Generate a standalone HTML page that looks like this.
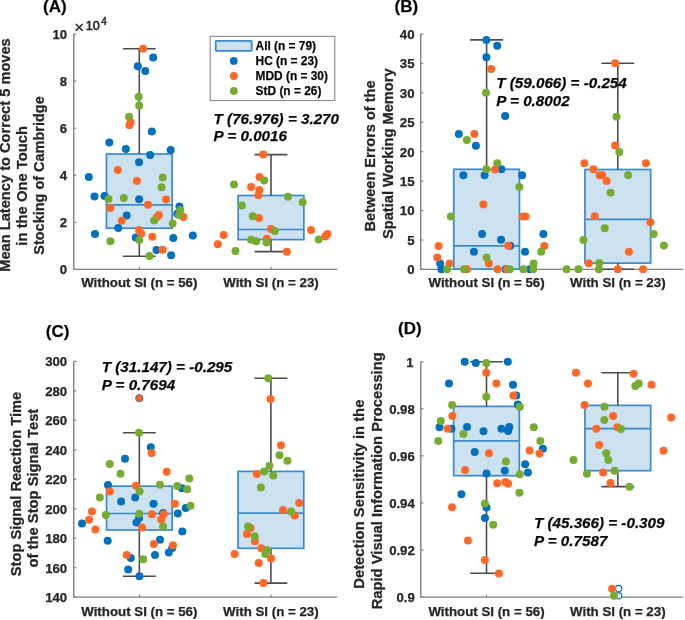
<!DOCTYPE html><html><head><meta charset="utf-8"><style>html,body{margin:0;padding:0;background:#fff}svg{display:block}text{font-family:"Liberation Sans",sans-serif;stroke:#222;stroke-width:0.25px}</style></head><body>
<svg width="685" height="620" viewBox="0 0 685 620">
<defs><filter id="bl" filterUnits="userSpaceOnUse" x="0" y="0" width="685" height="620"><feGaussianBlur stdDeviation="0.55"/></filter></defs>
<rect width="685" height="620" fill="#fff"/>
<g filter="url(#bl)">
<path d="M73.75,34.05 V269.4 H337.2" fill="none" stroke="#808080" stroke-width="1.4"/>
<line x1="73.75" y1="269.40" x2="76.35" y2="269.40" stroke="#808080" stroke-width="1.2"/>
<text x="67.2" y="274.30" font-size="13.2" font-weight="bold" fill="#262626" text-anchor="end">0</text>
<line x1="73.75" y1="222.33" x2="76.35" y2="222.33" stroke="#808080" stroke-width="1.2"/>
<text x="67.2" y="227.23" font-size="13.2" font-weight="bold" fill="#262626" text-anchor="end">2</text>
<line x1="73.75" y1="175.26" x2="76.35" y2="175.26" stroke="#808080" stroke-width="1.2"/>
<text x="67.2" y="180.16" font-size="13.2" font-weight="bold" fill="#262626" text-anchor="end">4</text>
<line x1="73.75" y1="128.19" x2="76.35" y2="128.19" stroke="#808080" stroke-width="1.2"/>
<text x="67.2" y="133.09" font-size="13.2" font-weight="bold" fill="#262626" text-anchor="end">6</text>
<line x1="73.75" y1="81.12" x2="76.35" y2="81.12" stroke="#808080" stroke-width="1.2"/>
<text x="67.2" y="86.02" font-size="13.2" font-weight="bold" fill="#262626" text-anchor="end">8</text>
<line x1="73.75" y1="34.05" x2="76.35" y2="34.05" stroke="#808080" stroke-width="1.2"/>
<text x="67.2" y="38.95" font-size="13.2" font-weight="bold" fill="#262626" text-anchor="end">10</text>
<line x1="139.30" y1="269.4" x2="139.30" y2="266.79999999999995" stroke="#808080" stroke-width="1.2"/>
<line x1="271.00" y1="269.4" x2="271.00" y2="266.79999999999995" stroke="#808080" stroke-width="1.2"/>
<rect x="106.45" y="154.00" width="65.70" height="74.20" fill="#CDE2F1" stroke="#3A8ACB" stroke-width="1.7"/>
<line x1="106.45" y1="204.90" x2="172.15" y2="204.90" stroke="#3A8ACB" stroke-width="1.7"/>
<line x1="139.30" y1="48.70" x2="139.30" y2="154.00" stroke="#4d4d4d" stroke-width="1.6"/>
<line x1="122.88" y1="48.70" x2="155.73" y2="48.70" stroke="#4d4d4d" stroke-width="1.6"/>
<line x1="139.30" y1="228.20" x2="139.30" y2="256.30" stroke="#4d4d4d" stroke-width="1.6"/>
<line x1="122.88" y1="256.30" x2="155.73" y2="256.30" stroke="#4d4d4d" stroke-width="1.6"/>
<rect x="238.15" y="195.50" width="65.70" height="44.10" fill="#CDE2F1" stroke="#3A8ACB" stroke-width="1.7"/>
<line x1="238.15" y1="229.50" x2="303.85" y2="229.50" stroke="#3A8ACB" stroke-width="1.7"/>
<line x1="271.00" y1="154.60" x2="271.00" y2="195.50" stroke="#4d4d4d" stroke-width="1.6"/>
<line x1="254.57" y1="154.60" x2="287.43" y2="154.60" stroke="#4d4d4d" stroke-width="1.6"/>
<line x1="271.00" y1="239.60" x2="271.00" y2="251.60" stroke="#4d4d4d" stroke-width="1.6"/>
<line x1="254.57" y1="251.60" x2="287.43" y2="251.60" stroke="#4d4d4d" stroke-width="1.6"/>
<circle cx="153.2" cy="57.4" r="4.0" fill="#0670BF"/>
<circle cx="137.8" cy="66.2" r="4.0" fill="#0670BF"/>
<circle cx="145.3" cy="70.9" r="4.0" fill="#0670BF"/>
<circle cx="151.8" cy="131.5" r="4.0" fill="#0670BF"/>
<circle cx="109.3" cy="142.5" r="4.0" fill="#0670BF"/>
<circle cx="125.9" cy="149" r="4.0" fill="#0670BF"/>
<circle cx="170.7" cy="150.1" r="4.0" fill="#0670BF"/>
<circle cx="150.1" cy="155.1" r="4.0" fill="#0670BF"/>
<circle cx="139" cy="162.3" r="4.0" fill="#0670BF"/>
<circle cx="88.8" cy="177" r="4.0" fill="#0670BF"/>
<circle cx="94.5" cy="196.5" r="4.0" fill="#0670BF"/>
<circle cx="104.5" cy="196.1" r="4.0" fill="#0670BF"/>
<circle cx="139.1" cy="199.3" r="4.0" fill="#0670BF"/>
<circle cx="179.4" cy="206.4" r="4.0" fill="#0670BF"/>
<circle cx="177.2" cy="213.8" r="4.0" fill="#0670BF"/>
<circle cx="126.7" cy="215.6" r="4.0" fill="#0670BF"/>
<circle cx="118.3" cy="227.9" r="4.0" fill="#0670BF"/>
<circle cx="95" cy="233.9" r="4.0" fill="#0670BF"/>
<circle cx="173.3" cy="237.9" r="4.0" fill="#0670BF"/>
<circle cx="192.8" cy="235.6" r="4.0" fill="#0670BF"/>
<circle cx="135.8" cy="237.5" r="4.0" fill="#0670BF"/>
<circle cx="156.5" cy="250" r="4.0" fill="#0670BF"/>
<circle cx="171.1" cy="255.2" r="4.0" fill="#0670BF"/>
<circle cx="143.1" cy="48.7" r="4.0" fill="#FF6828"/>
<circle cx="130.5" cy="122.2" r="4.0" fill="#FF6828"/>
<circle cx="129.4" cy="125.2" r="4.0" fill="#FF6828"/>
<circle cx="117.8" cy="170" r="4.0" fill="#FF6828"/>
<circle cx="136.9" cy="181.1" r="4.0" fill="#FF6828"/>
<circle cx="166" cy="199.4" r="4.0" fill="#FF6828"/>
<circle cx="148" cy="204.8" r="4.0" fill="#FF6828"/>
<circle cx="110.4" cy="208.1" r="4.0" fill="#FF6828"/>
<circle cx="183.4" cy="216.9" r="4.0" fill="#FF6828"/>
<circle cx="158.8" cy="215" r="4.0" fill="#FF6828"/>
<circle cx="157" cy="217" r="4.0" fill="#FF6828"/>
<circle cx="121.8" cy="220.7" r="4.0" fill="#FF6828"/>
<circle cx="139.1" cy="229.9" r="4.0" fill="#FF6828"/>
<circle cx="141.2" cy="233.4" r="4.0" fill="#FF6828"/>
<circle cx="152.3" cy="236.7" r="4.0" fill="#FF6828"/>
<circle cx="162.6" cy="249.8" r="4.0" fill="#FF6828"/>
<circle cx="263.2" cy="154.6" r="4.0" fill="#FF6828"/>
<circle cx="259.5" cy="177" r="4.0" fill="#FF6828"/>
<circle cx="251.1" cy="187.1" r="4.0" fill="#FF6828"/>
<circle cx="259.3" cy="190.1" r="4.0" fill="#FF6828"/>
<circle cx="258.4" cy="195.3" r="4.0" fill="#FF6828"/>
<circle cx="259" cy="218" r="4.0" fill="#FF6828"/>
<circle cx="271" cy="229.1" r="4.0" fill="#FF6828"/>
<circle cx="311" cy="229.9" r="4.0" fill="#FF6828"/>
<circle cx="327.4" cy="233.9" r="4.0" fill="#FF6828"/>
<circle cx="325.2" cy="236.5" r="4.0" fill="#FF6828"/>
<circle cx="223.7" cy="235.1" r="4.0" fill="#FF6828"/>
<circle cx="217.8" cy="244.3" r="4.0" fill="#FF6828"/>
<circle cx="266.8" cy="238.8" r="4.0" fill="#FF6828"/>
<circle cx="286.9" cy="251.8" r="4.0" fill="#FF6828"/>
<circle cx="138.7" cy="96.8" r="4.0" fill="#77AC30"/>
<circle cx="139.2" cy="105.6" r="4.0" fill="#77AC30"/>
<circle cx="129.1" cy="116.8" r="4.0" fill="#77AC30"/>
<circle cx="162.7" cy="177.6" r="4.0" fill="#77AC30"/>
<circle cx="161.5" cy="187.2" r="4.0" fill="#77AC30"/>
<circle cx="108.5" cy="199" r="4.0" fill="#77AC30"/>
<circle cx="123.8" cy="198" r="4.0" fill="#77AC30"/>
<circle cx="180.3" cy="209.9" r="4.0" fill="#77AC30"/>
<circle cx="179" cy="215.1" r="4.0" fill="#77AC30"/>
<circle cx="154.2" cy="220.5" r="4.0" fill="#77AC30"/>
<circle cx="172.6" cy="223.5" r="4.0" fill="#77AC30"/>
<circle cx="139.4" cy="239.9" r="4.0" fill="#77AC30"/>
<circle cx="110.4" cy="241.3" r="4.0" fill="#77AC30"/>
<circle cx="149.5" cy="256.1" r="4.0" fill="#77AC30"/>
<circle cx="264.2" cy="180.4" r="4.0" fill="#77AC30"/>
<circle cx="234" cy="184.6" r="4.0" fill="#77AC30"/>
<circle cx="288" cy="196.8" r="4.0" fill="#77AC30"/>
<circle cx="302.6" cy="202.3" r="4.0" fill="#77AC30"/>
<circle cx="241.9" cy="205.4" r="4.0" fill="#77AC30"/>
<circle cx="252.7" cy="216.2" r="4.0" fill="#77AC30"/>
<circle cx="274.8" cy="231.1" r="4.0" fill="#77AC30"/>
<circle cx="251.1" cy="239.8" r="4.0" fill="#77AC30"/>
<circle cx="256.3" cy="241.2" r="4.0" fill="#77AC30"/>
<circle cx="266.6" cy="242.4" r="4.0" fill="#77AC30"/>
<circle cx="318.7" cy="239.6" r="4.0" fill="#77AC30"/>
<circle cx="235.4" cy="251.1" r="4.0" fill="#77AC30"/>
<text x="139.30" y="286.6" font-size="13.3" font-weight="bold" fill="#262626" text-anchor="middle">Without SI (n = 56)</text>
<text x="271.00" y="286.6" font-size="13.3" font-weight="bold" fill="#262626" text-anchor="middle">With SI (n = 23)</text>
<path d="M420.7,34.05 V269.4 H683.2" fill="none" stroke="#808080" stroke-width="1.4"/>
<line x1="420.7" y1="269.40" x2="423.3" y2="269.40" stroke="#808080" stroke-width="1.2"/>
<text x="414.5" y="274.30" font-size="13.2" font-weight="bold" fill="#262626" text-anchor="end">0</text>
<line x1="420.7" y1="239.98" x2="423.3" y2="239.98" stroke="#808080" stroke-width="1.2"/>
<text x="414.5" y="244.88" font-size="13.2" font-weight="bold" fill="#262626" text-anchor="end">5</text>
<line x1="420.7" y1="210.56" x2="423.3" y2="210.56" stroke="#808080" stroke-width="1.2"/>
<text x="414.5" y="215.46" font-size="13.2" font-weight="bold" fill="#262626" text-anchor="end">10</text>
<line x1="420.7" y1="181.14" x2="423.3" y2="181.14" stroke="#808080" stroke-width="1.2"/>
<text x="414.5" y="186.04" font-size="13.2" font-weight="bold" fill="#262626" text-anchor="end">15</text>
<line x1="420.7" y1="151.72" x2="423.3" y2="151.72" stroke="#808080" stroke-width="1.2"/>
<text x="414.5" y="156.62" font-size="13.2" font-weight="bold" fill="#262626" text-anchor="end">20</text>
<line x1="420.7" y1="122.31" x2="423.3" y2="122.31" stroke="#808080" stroke-width="1.2"/>
<text x="414.5" y="127.21" font-size="13.2" font-weight="bold" fill="#262626" text-anchor="end">25</text>
<line x1="420.7" y1="92.89" x2="423.3" y2="92.89" stroke="#808080" stroke-width="1.2"/>
<text x="414.5" y="97.79" font-size="13.2" font-weight="bold" fill="#262626" text-anchor="end">30</text>
<line x1="420.7" y1="63.47" x2="423.3" y2="63.47" stroke="#808080" stroke-width="1.2"/>
<text x="414.5" y="68.37" font-size="13.2" font-weight="bold" fill="#262626" text-anchor="end">35</text>
<line x1="420.7" y1="34.05" x2="423.3" y2="34.05" stroke="#808080" stroke-width="1.2"/>
<text x="414.5" y="38.95" font-size="13.2" font-weight="bold" fill="#262626" text-anchor="end">40</text>
<line x1="486.60" y1="269.4" x2="486.60" y2="266.79999999999995" stroke="#808080" stroke-width="1.2"/>
<line x1="617.80" y1="269.4" x2="617.80" y2="266.79999999999995" stroke="#808080" stroke-width="1.2"/>
<rect x="453.75" y="169.30" width="65.70" height="99.80" fill="#CDE2F1" stroke="#3A8ACB" stroke-width="1.7"/>
<line x1="453.75" y1="245.90" x2="519.45" y2="245.90" stroke="#3A8ACB" stroke-width="1.7"/>
<line x1="486.60" y1="39.90" x2="486.60" y2="169.30" stroke="#4d4d4d" stroke-width="1.6"/>
<line x1="470.18" y1="39.90" x2="503.03" y2="39.90" stroke="#4d4d4d" stroke-width="1.6"/>
<rect x="584.95" y="169.50" width="65.70" height="93.60" fill="#CDE2F1" stroke="#3A8ACB" stroke-width="1.7"/>
<line x1="584.95" y1="219.30" x2="650.65" y2="219.30" stroke="#3A8ACB" stroke-width="1.7"/>
<line x1="617.80" y1="63.20" x2="617.80" y2="169.50" stroke="#4d4d4d" stroke-width="1.6"/>
<line x1="601.38" y1="63.20" x2="634.22" y2="63.20" stroke="#4d4d4d" stroke-width="1.6"/>
<line x1="617.80" y1="263.10" x2="617.80" y2="269.30" stroke="#4d4d4d" stroke-width="1.6"/>
<line x1="601.38" y1="269.30" x2="634.22" y2="269.30" stroke="#4d4d4d" stroke-width="1.6"/>
<circle cx="486.4" cy="39.9" r="4.0" fill="#0670BF"/>
<circle cx="497.2" cy="45.8" r="4.0" fill="#0670BF"/>
<circle cx="486.4" cy="57.3" r="4.0" fill="#0670BF"/>
<circle cx="505.2" cy="116.1" r="4.0" fill="#0670BF"/>
<circle cx="458.8" cy="134" r="4.0" fill="#0670BF"/>
<circle cx="475.9" cy="145.8" r="4.0" fill="#0670BF"/>
<circle cx="501.4" cy="169.2" r="4.0" fill="#0670BF"/>
<circle cx="463.4" cy="175.2" r="4.0" fill="#0670BF"/>
<circle cx="484.6" cy="175.2" r="4.0" fill="#0670BF"/>
<circle cx="522.1" cy="175.2" r="4.0" fill="#0670BF"/>
<circle cx="482.1" cy="234.1" r="4.0" fill="#0670BF"/>
<circle cx="543.4" cy="234.1" r="4.0" fill="#0670BF"/>
<circle cx="501.1" cy="239.8" r="4.0" fill="#0670BF"/>
<circle cx="510.3" cy="245.8" r="4.0" fill="#0670BF"/>
<circle cx="473.9" cy="251.8" r="4.0" fill="#0670BF"/>
<circle cx="525" cy="251.7" r="4.0" fill="#0670BF"/>
<circle cx="440.1" cy="263.5" r="4.0" fill="#0670BF"/>
<circle cx="441.4" cy="269.3" r="4.0" fill="#0670BF"/>
<circle cx="505.6" cy="269.3" r="4.0" fill="#0670BF"/>
<circle cx="529.9" cy="269.3" r="4.0" fill="#0670BF"/>
<circle cx="491.1" cy="69.1" r="4.0" fill="#FF6828"/>
<circle cx="474.3" cy="134" r="4.0" fill="#FF6828"/>
<circle cx="495" cy="169.4" r="4.0" fill="#FF6828"/>
<circle cx="483.4" cy="204.6" r="4.0" fill="#FF6828"/>
<circle cx="522.8" cy="216.6" r="4.0" fill="#FF6828"/>
<circle cx="525.6" cy="216.6" r="4.0" fill="#FF6828"/>
<circle cx="508.2" cy="245.8" r="4.0" fill="#FF6828"/>
<circle cx="544.3" cy="246" r="4.0" fill="#FF6828"/>
<circle cx="438.6" cy="245.9" r="4.0" fill="#FF6828"/>
<circle cx="437.3" cy="257.6" r="4.0" fill="#FF6828"/>
<circle cx="449.5" cy="263.5" r="4.0" fill="#FF6828"/>
<circle cx="488.9" cy="263.5" r="4.0" fill="#FF6828"/>
<circle cx="466.8" cy="269.3" r="4.0" fill="#FF6828"/>
<circle cx="497.6" cy="269.3" r="4.0" fill="#FF6828"/>
<circle cx="507.1" cy="269.3" r="4.0" fill="#FF6828"/>
<circle cx="615.1" cy="63.2" r="4.0" fill="#FF6828"/>
<circle cx="615.1" cy="145.4" r="4.0" fill="#FF6828"/>
<circle cx="584.3" cy="163.3" r="4.0" fill="#FF6828"/>
<circle cx="645.9" cy="163.3" r="4.0" fill="#FF6828"/>
<circle cx="593.3" cy="169.3" r="4.0" fill="#FF6828"/>
<circle cx="599.6" cy="175.2" r="4.0" fill="#FF6828"/>
<circle cx="602.2" cy="175.2" r="4.0" fill="#FF6828"/>
<circle cx="606.6" cy="181.1" r="4.0" fill="#FF6828"/>
<circle cx="594.8" cy="216.3" r="4.0" fill="#FF6828"/>
<circle cx="650.4" cy="222.3" r="4.0" fill="#FF6828"/>
<circle cx="628.9" cy="251.7" r="4.0" fill="#FF6828"/>
<circle cx="588.8" cy="263.2" r="4.0" fill="#FF6828"/>
<circle cx="617.8" cy="269.3" r="4.0" fill="#FF6828"/>
<circle cx="643" cy="269.2" r="4.0" fill="#FF6828"/>
<circle cx="486" cy="92.8" r="4.0" fill="#77AC30"/>
<circle cx="466.9" cy="139.9" r="4.0" fill="#77AC30"/>
<circle cx="497.3" cy="163.3" r="4.0" fill="#77AC30"/>
<circle cx="486.4" cy="169.2" r="4.0" fill="#77AC30"/>
<circle cx="519.4" cy="187" r="4.0" fill="#77AC30"/>
<circle cx="450.9" cy="216.6" r="4.0" fill="#77AC30"/>
<circle cx="541.2" cy="251.8" r="4.0" fill="#77AC30"/>
<circle cx="486.6" cy="257.6" r="4.0" fill="#77AC30"/>
<circle cx="533.6" cy="263.4" r="4.0" fill="#77AC30"/>
<circle cx="447.1" cy="269.3" r="4.0" fill="#77AC30"/>
<circle cx="464" cy="269.3" r="4.0" fill="#77AC30"/>
<circle cx="509.8" cy="269.3" r="4.0" fill="#77AC30"/>
<circle cx="523.5" cy="269.3" r="4.0" fill="#77AC30"/>
<circle cx="533.3" cy="269.3" r="4.0" fill="#77AC30"/>
<circle cx="616.5" cy="116.7" r="4.0" fill="#77AC30"/>
<circle cx="619.3" cy="152.1" r="4.0" fill="#77AC30"/>
<circle cx="628.1" cy="175.1" r="4.0" fill="#77AC30"/>
<circle cx="610.6" cy="192.8" r="4.0" fill="#77AC30"/>
<circle cx="604.7" cy="228.2" r="4.0" fill="#77AC30"/>
<circle cx="653.7" cy="233.9" r="4.0" fill="#77AC30"/>
<circle cx="583.3" cy="239.9" r="4.0" fill="#77AC30"/>
<circle cx="663.9" cy="245.5" r="4.0" fill="#77AC30"/>
<circle cx="599.3" cy="262.9" r="4.0" fill="#77AC30"/>
<circle cx="566.6" cy="269.3" r="4.0" fill="#77AC30"/>
<circle cx="578.4" cy="269.3" r="4.0" fill="#77AC30"/>
<circle cx="598.9" cy="269.3" r="4.0" fill="#77AC30"/>
<text x="486.60" y="286.6" font-size="13.3" font-weight="bold" fill="#262626" text-anchor="middle">Without SI (n = 56)</text>
<text x="617.80" y="286.6" font-size="13.3" font-weight="bold" fill="#262626" text-anchor="middle">With SI (n = 23)</text>
<path d="M73.75,361.4 V597.15 H337.1" fill="none" stroke="#808080" stroke-width="1.4"/>
<line x1="73.75" y1="597.15" x2="76.35" y2="597.15" stroke="#808080" stroke-width="1.2"/>
<text x="67.2" y="602.05" font-size="13.2" font-weight="bold" fill="#262626" text-anchor="end">140</text>
<line x1="73.75" y1="567.68" x2="76.35" y2="567.68" stroke="#808080" stroke-width="1.2"/>
<text x="67.2" y="572.58" font-size="13.2" font-weight="bold" fill="#262626" text-anchor="end">160</text>
<line x1="73.75" y1="538.21" x2="76.35" y2="538.21" stroke="#808080" stroke-width="1.2"/>
<text x="67.2" y="543.11" font-size="13.2" font-weight="bold" fill="#262626" text-anchor="end">180</text>
<line x1="73.75" y1="508.74" x2="76.35" y2="508.74" stroke="#808080" stroke-width="1.2"/>
<text x="67.2" y="513.64" font-size="13.2" font-weight="bold" fill="#262626" text-anchor="end">200</text>
<line x1="73.75" y1="479.27" x2="76.35" y2="479.27" stroke="#808080" stroke-width="1.2"/>
<text x="67.2" y="484.17" font-size="13.2" font-weight="bold" fill="#262626" text-anchor="end">220</text>
<line x1="73.75" y1="449.81" x2="76.35" y2="449.81" stroke="#808080" stroke-width="1.2"/>
<text x="67.2" y="454.71" font-size="13.2" font-weight="bold" fill="#262626" text-anchor="end">240</text>
<line x1="73.75" y1="420.34" x2="76.35" y2="420.34" stroke="#808080" stroke-width="1.2"/>
<text x="67.2" y="425.24" font-size="13.2" font-weight="bold" fill="#262626" text-anchor="end">260</text>
<line x1="73.75" y1="390.87" x2="76.35" y2="390.87" stroke="#808080" stroke-width="1.2"/>
<text x="67.2" y="395.77" font-size="13.2" font-weight="bold" fill="#262626" text-anchor="end">280</text>
<line x1="73.75" y1="361.40" x2="76.35" y2="361.40" stroke="#808080" stroke-width="1.2"/>
<text x="67.2" y="366.30" font-size="13.2" font-weight="bold" fill="#262626" text-anchor="end">300</text>
<line x1="139.35" y1="597.15" x2="139.35" y2="594.55" stroke="#808080" stroke-width="1.2"/>
<line x1="270.90" y1="597.15" x2="270.90" y2="594.55" stroke="#808080" stroke-width="1.2"/>
<rect x="106.50" y="486.20" width="65.70" height="43.80" fill="#CDE2F1" stroke="#3A8ACB" stroke-width="1.7"/>
<line x1="106.50" y1="513.50" x2="172.20" y2="513.50" stroke="#3A8ACB" stroke-width="1.7"/>
<line x1="139.35" y1="432.70" x2="139.35" y2="486.20" stroke="#4d4d4d" stroke-width="1.6"/>
<line x1="122.92" y1="432.70" x2="155.78" y2="432.70" stroke="#4d4d4d" stroke-width="1.6"/>
<line x1="139.35" y1="530.00" x2="139.35" y2="576.20" stroke="#4d4d4d" stroke-width="1.6"/>
<line x1="122.92" y1="576.20" x2="155.78" y2="576.20" stroke="#4d4d4d" stroke-width="1.6"/>
<rect x="238.05" y="471.40" width="65.70" height="76.90" fill="#CDE2F1" stroke="#3A8ACB" stroke-width="1.7"/>
<line x1="238.05" y1="513.10" x2="303.75" y2="513.10" stroke="#3A8ACB" stroke-width="1.7"/>
<line x1="270.90" y1="378.20" x2="270.90" y2="471.40" stroke="#4d4d4d" stroke-width="1.6"/>
<line x1="254.47" y1="378.20" x2="287.32" y2="378.20" stroke="#4d4d4d" stroke-width="1.6"/>
<line x1="270.90" y1="548.30" x2="270.90" y2="583.10" stroke="#4d4d4d" stroke-width="1.6"/>
<line x1="254.47" y1="583.10" x2="287.32" y2="583.10" stroke="#4d4d4d" stroke-width="1.6"/>
<circle cx="139.3" cy="398.2" r="3.65" fill="#FF6828" stroke="#5a5a70" stroke-width="0.9"/>
<circle cx="150.8" cy="447.3" r="4.0" fill="#0670BF"/>
<circle cx="125" cy="458.7" r="4.0" fill="#0670BF"/>
<circle cx="108" cy="484.9" r="4.0" fill="#0670BF"/>
<circle cx="135.2" cy="497.6" r="4.0" fill="#0670BF"/>
<circle cx="181.8" cy="488.3" r="4.0" fill="#0670BF"/>
<circle cx="121.1" cy="501.5" r="4.0" fill="#0670BF"/>
<circle cx="153.5" cy="503.8" r="4.0" fill="#0670BF"/>
<circle cx="185.7" cy="508" r="4.0" fill="#0670BF"/>
<circle cx="139.1" cy="518.1" r="4.0" fill="#0670BF"/>
<circle cx="136.5" cy="522.6" r="4.0" fill="#0670BF"/>
<circle cx="82" cy="523.5" r="4.0" fill="#0670BF"/>
<circle cx="163.1" cy="513.1" r="4.0" fill="#0670BF"/>
<circle cx="177.8" cy="513.6" r="4.0" fill="#0670BF"/>
<circle cx="182.3" cy="531.4" r="4.0" fill="#0670BF"/>
<circle cx="107.7" cy="540.8" r="4.0" fill="#0670BF"/>
<circle cx="160" cy="539.8" r="4.0" fill="#0670BF"/>
<circle cx="172.2" cy="548.1" r="4.0" fill="#0670BF"/>
<circle cx="168.8" cy="552.5" r="4.0" fill="#0670BF"/>
<circle cx="155" cy="555.1" r="4.0" fill="#0670BF"/>
<circle cx="130.8" cy="558.1" r="4.0" fill="#0670BF"/>
<circle cx="128.2" cy="569.5" r="4.0" fill="#0670BF"/>
<circle cx="139.4" cy="576.2" r="4.0" fill="#0670BF"/>
<circle cx="151.6" cy="453" r="4.0" fill="#FF6828"/>
<circle cx="166.7" cy="471.8" r="4.0" fill="#FF6828"/>
<circle cx="109.8" cy="491.6" r="4.0" fill="#FF6828"/>
<circle cx="136" cy="485.7" r="4.0" fill="#FF6828"/>
<circle cx="174.8" cy="503.8" r="4.0" fill="#FF6828"/>
<circle cx="91.9" cy="511.4" r="4.0" fill="#FF6828"/>
<circle cx="89.1" cy="519.8" r="4.0" fill="#FF6828"/>
<circle cx="95.3" cy="529.4" r="4.0" fill="#FF6828"/>
<circle cx="142" cy="527.4" r="4.0" fill="#FF6828"/>
<circle cx="151.9" cy="514.2" r="4.0" fill="#FF6828"/>
<circle cx="163.7" cy="514" r="4.0" fill="#FF6828"/>
<circle cx="161.2" cy="519.6" r="4.0" fill="#FF6828"/>
<circle cx="153.8" cy="544.1" r="4.0" fill="#FF6828"/>
<circle cx="173" cy="545.2" r="4.0" fill="#FF6828"/>
<circle cx="126.8" cy="555" r="4.0" fill="#FF6828"/>
<circle cx="270.5" cy="398.9" r="4.0" fill="#FF6828"/>
<circle cx="281" cy="445.2" r="4.0" fill="#FF6828"/>
<circle cx="256.8" cy="474.1" r="4.0" fill="#FF6828"/>
<circle cx="299.2" cy="503" r="4.0" fill="#FF6828"/>
<circle cx="283" cy="509.9" r="4.0" fill="#FF6828"/>
<circle cx="294.7" cy="515.6" r="4.0" fill="#FF6828"/>
<circle cx="250.5" cy="528" r="4.0" fill="#FF6828"/>
<circle cx="247" cy="534" r="4.0" fill="#FF6828"/>
<circle cx="255" cy="541.3" r="4.0" fill="#FF6828"/>
<circle cx="261.3" cy="548.3" r="4.0" fill="#FF6828"/>
<circle cx="234.6" cy="554.1" r="4.0" fill="#FF6828"/>
<circle cx="258.7" cy="562.9" r="4.0" fill="#FF6828"/>
<circle cx="263.4" cy="582.9" r="4.0" fill="#FF6828"/>
<circle cx="139" cy="432.7" r="4.0" fill="#77AC30"/>
<circle cx="109.8" cy="464.1" r="4.0" fill="#77AC30"/>
<circle cx="120.5" cy="473.8" r="4.0" fill="#77AC30"/>
<circle cx="189.3" cy="478.5" r="4.0" fill="#77AC30"/>
<circle cx="139.6" cy="491.4" r="4.0" fill="#77AC30"/>
<circle cx="99.8" cy="497.6" r="4.0" fill="#77AC30"/>
<circle cx="160" cy="484.8" r="4.0" fill="#77AC30"/>
<circle cx="177.3" cy="486.1" r="4.0" fill="#77AC30"/>
<circle cx="187.2" cy="489.3" r="4.0" fill="#77AC30"/>
<circle cx="190.5" cy="505.7" r="4.0" fill="#77AC30"/>
<circle cx="105.8" cy="515" r="4.0" fill="#77AC30"/>
<circle cx="139.1" cy="513.8" r="4.0" fill="#77AC30"/>
<circle cx="163.1" cy="526.6" r="4.0" fill="#77AC30"/>
<circle cx="143.2" cy="559.2" r="4.0" fill="#77AC30"/>
<circle cx="268.3" cy="378.2" r="4.0" fill="#77AC30"/>
<circle cx="279.5" cy="455.3" r="4.0" fill="#77AC30"/>
<circle cx="287.4" cy="460.8" r="4.0" fill="#77AC30"/>
<circle cx="269.5" cy="465.8" r="4.0" fill="#77AC30"/>
<circle cx="264.2" cy="471.4" r="4.0" fill="#77AC30"/>
<circle cx="273.2" cy="475.5" r="4.0" fill="#77AC30"/>
<circle cx="260.9" cy="487.6" r="4.0" fill="#77AC30"/>
<circle cx="291.2" cy="511.5" r="4.0" fill="#77AC30"/>
<circle cx="248" cy="526.6" r="4.0" fill="#77AC30"/>
<circle cx="254.7" cy="536.2" r="4.0" fill="#77AC30"/>
<circle cx="267" cy="550" r="4.0" fill="#77AC30"/>
<circle cx="265.3" cy="554.1" r="4.0" fill="#77AC30"/>
<circle cx="271.1" cy="558.5" r="4.0" fill="#FF6828"/>
<text x="139.35" y="615.5" font-size="13.3" font-weight="bold" fill="#262626" text-anchor="middle">Without SI (n = 56)</text>
<text x="270.90" y="615.5" font-size="13.3" font-weight="bold" fill="#262626" text-anchor="middle">With SI (n = 23)</text>
<path d="M420.8,361.7 V597.15 H683.2" fill="none" stroke="#808080" stroke-width="1.4"/>
<line x1="420.8" y1="597.15" x2="423.40000000000003" y2="597.15" stroke="#808080" stroke-width="1.2"/>
<text x="414.8" y="602.05" font-size="13.2" font-weight="bold" fill="#262626" text-anchor="end">0.9</text>
<line x1="420.8" y1="550.06" x2="423.40000000000003" y2="550.06" stroke="#808080" stroke-width="1.2"/>
<text x="414.8" y="554.96" font-size="13.2" font-weight="bold" fill="#262626" text-anchor="end">0.92</text>
<line x1="420.8" y1="502.97" x2="423.40000000000003" y2="502.97" stroke="#808080" stroke-width="1.2"/>
<text x="414.8" y="507.87" font-size="13.2" font-weight="bold" fill="#262626" text-anchor="end">0.94</text>
<line x1="420.8" y1="455.88" x2="423.40000000000003" y2="455.88" stroke="#808080" stroke-width="1.2"/>
<text x="414.8" y="460.78" font-size="13.2" font-weight="bold" fill="#262626" text-anchor="end">0.96</text>
<line x1="420.8" y1="408.79" x2="423.40000000000003" y2="408.79" stroke="#808080" stroke-width="1.2"/>
<text x="414.8" y="413.69" font-size="13.2" font-weight="bold" fill="#262626" text-anchor="end">0.98</text>
<line x1="420.8" y1="361.70" x2="423.40000000000003" y2="361.70" stroke="#808080" stroke-width="1.2"/>
<text x="413.6" y="366.60" font-size="13.2" font-weight="bold" fill="#262626" text-anchor="end">1</text>
<line x1="486.50" y1="597.15" x2="486.50" y2="594.55" stroke="#808080" stroke-width="1.2"/>
<line x1="617.80" y1="597.15" x2="617.80" y2="594.55" stroke="#808080" stroke-width="1.2"/>
<rect x="453.65" y="406.40" width="65.70" height="69.30" fill="#CDE2F1" stroke="#3A8ACB" stroke-width="1.7"/>
<line x1="453.65" y1="440.90" x2="519.35" y2="440.90" stroke="#3A8ACB" stroke-width="1.7"/>
<line x1="486.50" y1="361.80" x2="486.50" y2="406.40" stroke="#4d4d4d" stroke-width="1.6"/>
<line x1="470.07" y1="361.80" x2="502.93" y2="361.80" stroke="#4d4d4d" stroke-width="1.6"/>
<line x1="486.50" y1="475.70" x2="486.50" y2="573.20" stroke="#4d4d4d" stroke-width="1.6"/>
<line x1="470.07" y1="573.20" x2="502.93" y2="573.20" stroke="#4d4d4d" stroke-width="1.6"/>
<rect x="584.95" y="405.40" width="65.70" height="65.30" fill="#CDE2F1" stroke="#3A8ACB" stroke-width="1.7"/>
<line x1="584.95" y1="428.70" x2="650.65" y2="428.70" stroke="#3A8ACB" stroke-width="1.7"/>
<line x1="617.80" y1="372.70" x2="617.80" y2="405.40" stroke="#4d4d4d" stroke-width="1.6"/>
<line x1="601.38" y1="372.70" x2="634.22" y2="372.70" stroke="#4d4d4d" stroke-width="1.6"/>
<line x1="617.80" y1="470.70" x2="617.80" y2="486.60" stroke="#4d4d4d" stroke-width="1.6"/>
<line x1="601.38" y1="486.60" x2="634.22" y2="486.60" stroke="#4d4d4d" stroke-width="1.6"/>
<circle cx="618.6" cy="588.6" r="3.15" fill="#fff" stroke="#0670BF" stroke-width="1.15"/>
<circle cx="618.6" cy="595.7" r="3.15" fill="#fff" stroke="#0670BF" stroke-width="1.15"/>
<circle cx="464.7" cy="361.8" r="4.0" fill="#0670BF"/>
<circle cx="475.8" cy="362.9" r="4.0" fill="#0670BF"/>
<circle cx="507.8" cy="361.8" r="4.0" fill="#0670BF"/>
<circle cx="449" cy="383.6" r="4.0" fill="#0670BF"/>
<circle cx="513" cy="384.8" r="4.0" fill="#0670BF"/>
<circle cx="516.3" cy="395.6" r="4.0" fill="#0670BF"/>
<circle cx="517.9" cy="404.5" r="4.0" fill="#0670BF"/>
<circle cx="439.5" cy="427.3" r="4.0" fill="#0670BF"/>
<circle cx="451.5" cy="428.8" r="4.0" fill="#0670BF"/>
<circle cx="467" cy="427.1" r="4.0" fill="#0670BF"/>
<circle cx="483.5" cy="431.3" r="4.0" fill="#0670BF"/>
<circle cx="501.4" cy="428.8" r="4.0" fill="#0670BF"/>
<circle cx="509.3" cy="427.1" r="4.0" fill="#0670BF"/>
<circle cx="508.1" cy="431" r="4.0" fill="#0670BF"/>
<circle cx="542.9" cy="448.8" r="4.0" fill="#0670BF"/>
<circle cx="474.7" cy="451.9" r="4.0" fill="#0670BF"/>
<circle cx="525.2" cy="464.3" r="4.0" fill="#0670BF"/>
<circle cx="504.8" cy="470.8" r="4.0" fill="#0670BF"/>
<circle cx="486.5" cy="473.6" r="4.0" fill="#0670BF"/>
<circle cx="527.9" cy="472.5" r="4.0" fill="#0670BF"/>
<circle cx="461.4" cy="494.3" r="4.0" fill="#0670BF"/>
<circle cx="486.5" cy="507.4" r="4.0" fill="#0670BF"/>
<circle cx="485" cy="518.1" r="4.0" fill="#0670BF"/>
<circle cx="486.3" cy="372.8" r="4.0" fill="#FF6828"/>
<circle cx="496.4" cy="383.6" r="4.0" fill="#FF6828"/>
<circle cx="513.4" cy="395.6" r="4.0" fill="#FF6828"/>
<circle cx="452.4" cy="416.1" r="4.0" fill="#FF6828"/>
<circle cx="447.6" cy="428.8" r="4.0" fill="#FF6828"/>
<circle cx="529.6" cy="450.6" r="4.0" fill="#FF6828"/>
<circle cx="539.5" cy="453.6" r="4.0" fill="#FF6828"/>
<circle cx="489" cy="453.3" r="4.0" fill="#FF6828"/>
<circle cx="465.1" cy="470" r="4.0" fill="#FF6828"/>
<circle cx="497.2" cy="483.2" r="4.0" fill="#FF6828"/>
<circle cx="505.5" cy="481.9" r="4.0" fill="#FF6828"/>
<circle cx="508.1" cy="483.8" r="4.0" fill="#FF6828"/>
<circle cx="452" cy="507.2" r="4.0" fill="#FF6828"/>
<circle cx="467.9" cy="540.6" r="4.0" fill="#FF6828"/>
<circle cx="484.9" cy="560.1" r="4.0" fill="#FF6828"/>
<circle cx="498.9" cy="573.4" r="4.0" fill="#FF6828"/>
<circle cx="576" cy="372.7" r="4.0" fill="#FF6828"/>
<circle cx="587.9" cy="383.6" r="4.0" fill="#FF6828"/>
<circle cx="633.6" cy="373.8" r="4.0" fill="#FF6828"/>
<circle cx="651.5" cy="384.8" r="4.0" fill="#FF6828"/>
<circle cx="584.6" cy="405.1" r="4.0" fill="#FF6828"/>
<circle cx="613.1" cy="416" r="4.0" fill="#FF6828"/>
<circle cx="596.4" cy="428.7" r="4.0" fill="#FF6828"/>
<circle cx="617.4" cy="427.3" r="4.0" fill="#FF6828"/>
<circle cx="671.2" cy="417.5" r="4.0" fill="#FF6828"/>
<circle cx="599.2" cy="445.1" r="4.0" fill="#FF6828"/>
<circle cx="663.5" cy="450.7" r="4.0" fill="#FF6828"/>
<circle cx="603.2" cy="472.4" r="4.0" fill="#FF6828"/>
<circle cx="610.5" cy="483.1" r="4.0" fill="#FF6828"/>
<circle cx="612.1" cy="588.8" r="4.0" fill="#FF6828"/>
<circle cx="486.3" cy="362.9" r="4.0" fill="#77AC30"/>
<circle cx="486.3" cy="396.8" r="4.0" fill="#77AC30"/>
<circle cx="519.8" cy="406.7" r="4.0" fill="#77AC30"/>
<circle cx="452.1" cy="405.1" r="4.0" fill="#77AC30"/>
<circle cx="440.8" cy="421" r="4.0" fill="#77AC30"/>
<circle cx="463.4" cy="434.1" r="4.0" fill="#77AC30"/>
<circle cx="438.3" cy="440.9" r="4.0" fill="#77AC30"/>
<circle cx="533.8" cy="427.3" r="4.0" fill="#77AC30"/>
<circle cx="540.3" cy="440.9" r="4.0" fill="#77AC30"/>
<circle cx="505.9" cy="461.5" r="4.0" fill="#77AC30"/>
<circle cx="519.8" cy="474.2" r="4.0" fill="#77AC30"/>
<circle cx="519.4" cy="492.8" r="4.0" fill="#77AC30"/>
<circle cx="484.9" cy="503.4" r="4.0" fill="#77AC30"/>
<circle cx="493.2" cy="524.7" r="4.0" fill="#77AC30"/>
<circle cx="638.7" cy="383.4" r="4.0" fill="#77AC30"/>
<circle cx="635.3" cy="386.1" r="4.0" fill="#77AC30"/>
<circle cx="604.4" cy="406.8" r="4.0" fill="#77AC30"/>
<circle cx="604.3" cy="420.1" r="4.0" fill="#77AC30"/>
<circle cx="621" cy="428.9" r="4.0" fill="#77AC30"/>
<circle cx="606.3" cy="453.2" r="4.0" fill="#77AC30"/>
<circle cx="608.3" cy="460" r="4.0" fill="#77AC30"/>
<circle cx="573.5" cy="460" r="4.0" fill="#77AC30"/>
<circle cx="586.9" cy="473.8" r="4.0" fill="#77AC30"/>
<circle cx="614.5" cy="470.7" r="4.0" fill="#77AC30"/>
<circle cx="629.5" cy="486.7" r="4.0" fill="#77AC30"/>
<circle cx="613.9" cy="595.7" r="4.0" fill="#77AC30"/>
<text x="486.50" y="615.5" font-size="13.3" font-weight="bold" fill="#262626" text-anchor="middle">Without SI (n = 56)</text>
<text x="617.80" y="615.5" font-size="13.3" font-weight="bold" fill="#262626" text-anchor="middle">With SI (n = 23)</text>
<text transform="translate(10.3,155.0) rotate(-90)" font-size="14.65" font-weight="bold" fill="#262626" text-anchor="middle">Mean Latency to Correct 5 moves</text>
<text transform="translate(27.4,185.75) rotate(-90)" font-size="14.81" font-weight="bold" fill="#262626" text-anchor="middle">in the One Touch</text>
<text transform="translate(43.9,175.5) rotate(-90)" font-size="14.47" font-weight="bold" fill="#262626" text-anchor="middle">Stocking of Cambridge</text>
<text transform="translate(375.4,156.0) rotate(-90)" font-size="14.54" font-weight="bold" fill="#262626" text-anchor="middle">Between Errors of the</text>
<text transform="translate(392.7,153.7) rotate(-90)" font-size="14.65" font-weight="bold" fill="#262626" text-anchor="middle">Spatial Working Memory</text>
<text transform="translate(21.1,484.0) rotate(-90)" font-size="14.65" font-weight="bold" fill="#262626" text-anchor="middle">Stop Signal Reaction Time</text>
<text transform="translate(37.7,488.1) rotate(-90)" font-size="14.75" font-weight="bold" fill="#262626" text-anchor="middle">of the Stop Signal Test</text>
<text transform="translate(364.4,494.2) rotate(-90)" font-size="14.81" font-weight="bold" fill="#262626" text-anchor="middle">Detection Sensitivity in the</text>
<text transform="translate(381.6,480.8) rotate(-90)" font-size="14.76" font-weight="bold" fill="#262626" text-anchor="middle">Rapid Visual Information Processing</text>
<text x="43.1" y="12.2" font-size="17" font-weight="bold" fill="#000">(A)</text>
<text x="394.5" y="12.4" font-size="17" font-weight="bold" fill="#000">(B)</text>
<text x="45.8" y="337.3" font-size="17" font-weight="bold" fill="#000">(C)</text>
<text x="398" y="334.3" font-size="17" font-weight="bold" fill="#000">(D)</text>
<text x="74.2" y="32.5" font-size="17" fill="#262626">×</text>
<text x="85.8" y="30.3" font-size="12.6" fill="#262626" style="stroke-width:0.55px">10</text>
<text x="101.3" y="25.2" font-size="10" fill="#262626" style="stroke-width:0.45px">4</text>
<text x="213.6" y="124.0" font-size="15.2" font-weight="bold" font-style="italic" fill="#000">T (76.976) = 3.270</text>
<text x="213.6" y="141.4" font-size="15.2" font-weight="bold" font-style="italic" fill="#000">P = 0.0016</text>
<text x="496.3" y="88.1" font-size="15.2" font-weight="bold" font-style="italic" fill="#000">T (59.066) = -0.254</text>
<text x="496.3" y="105.5" font-size="15.2" font-weight="bold" font-style="italic" fill="#000">P = 0.8002</text>
<text x="101.8" y="372.1" font-size="15.2" font-weight="bold" font-style="italic" fill="#000">T (31.147) = -0.295</text>
<text x="101.8" y="389.5" font-size="15.2" font-weight="bold" font-style="italic" fill="#000">P = 0.7694</text>
<text x="534.0" y="528.3" font-size="15.2" font-weight="bold" font-style="italic" fill="#000">T (45.366) = -0.309</text>
<text x="534.0" y="545.7" font-size="15.2" font-weight="bold" font-style="italic" fill="#000">P = 0.7587</text>
<rect x="210.2" y="36.4" width="124.6" height="64.1" fill="#fff" stroke="#8a8a8a" stroke-width="1.1"/>
<rect x="215.7" y="40.9" width="36.0" height="9.9" rx="0.8" fill="#CDE2F1" stroke="#3A8ACB" stroke-width="1.8"/>
<text x="255.6" y="50.1" font-size="11.9" font-weight="bold" fill="#000">All (n = 79)</text>
<circle cx="233.8" cy="60.95" r="3.9" fill="#0670BF"/>
<text x="255.6" y="64.9" font-size="11.9" font-weight="bold" fill="#000">HC (n = 23)</text>
<circle cx="233.8" cy="76.0" r="3.9" fill="#FF6828"/>
<text x="255.6" y="79.9" font-size="11.9" font-weight="bold" fill="#000">MDD (n = 30)</text>
<circle cx="233.8" cy="90.9" r="3.9" fill="#77AC30"/>
<text x="255.6" y="94.8" font-size="11.9" font-weight="bold" fill="#000">StD (n = 26)</text>
</g></svg></body></html>
